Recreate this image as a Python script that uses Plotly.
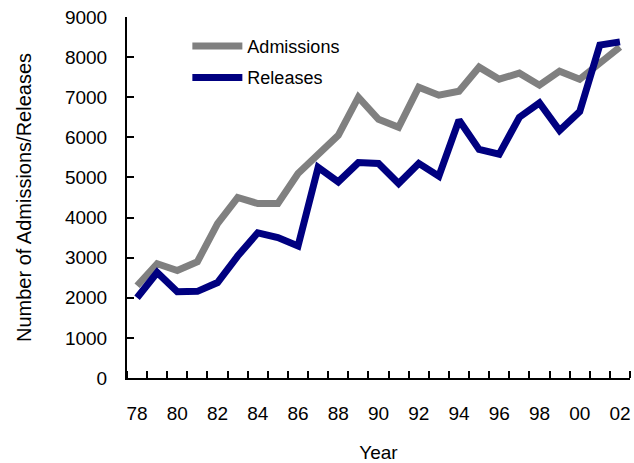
import plotly.graph_objects as go

years = ["78","79","80","81","82","83","84","85","86","87","88","89","90",
         "91","92","93","94","95","96","97","98","99","00","01","02"]
admissions = [2300, 2850, 2680, 2900, 3850, 4500, 4350, 4350, 5100, 5560, 6050, 7000, 6450,
              6250, 7250, 7050, 7150, 7750, 7450, 7600, 7300, 7650, 7450, 7850, 8250]
releases = [2000, 2630, 2150, 2160, 2380, 3040, 3620, 3500, 3290, 5250, 4890, 5370, 5350,
            4850, 5350, 5030, 6430, 5700, 5580, 6500, 6860, 6170, 6640, 8300, 8380]

idx = list(range(len(years)))
font = "Liberation Sans, Arial, sans-serif"

fig = go.Figure()
fig.add_trace(go.Scatter(x=idx, y=admissions, mode="lines", name="Admissions",
                         legendgroup="a",
                         line=dict(color="#808080", width=7)))
fig.add_trace(go.Scatter(x=idx, y=releases, mode="lines", name="Releases",
                         legendgroup="r",
                         line=dict(color="#000080", width=7)))

fig.update_layout(
    width=634, height=463,
    margin=dict(l=127, r=4, t=17, b=85, autoexpand=False),
    paper_bgcolor="white", plot_bgcolor="white",
    font=dict(family=font, size=19, color="black"),
    showlegend=True,
    legend=dict(x=0.12, y=0.97, xanchor="left", yanchor="top",
                bgcolor="rgba(0,0,0,0)", font=dict(family=font, size=18),
                tracegroupgap=5, itemwidth=50),
)
fig.update_xaxes(
    automargin=False,
    range=[-0.5, len(years) - 0.5],
    tickmode="array", tickvals=idx[::2], ticktext=years[::2],
    tickfont=dict(family=font, size=19),
    ticks="", showgrid=False, zeroline=False,
    showline=True, linecolor="black", linewidth=2,
    ticklabelstandoff=17,
    minor=dict(tickmode="array", tickvals=[i - 0.5 for i in range(len(years) + 1)],
               ticks="inside", ticklen=7, tickwidth=2, tickcolor="black", showgrid=False),
    title=dict(text="Year", font=dict(family=font, size=19), standoff=23),
)
fig.update_yaxes(
    automargin=False,
    range=[0, 9000], tickmode="linear", tick0=0, dtick=1000,
    tickfont=dict(family=font, size=19),
    ticks="inside", ticklen=7, tickwidth=2, tickcolor="black",
    showgrid=False, zeroline=False,
    showline=True, linecolor="black", linewidth=2,
    ticklabelstandoff=14,
    title=dict(text="Number of Admissions/Releases", font=dict(family=font, size=20), standoff=28),
)

fig.write_html("out.html", config={"displayModeBar": False},
               post_script="document.body.style.margin='0';")
